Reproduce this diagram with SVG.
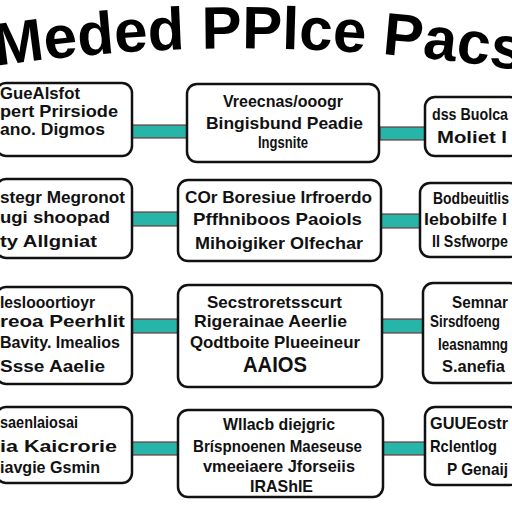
<svg xmlns="http://www.w3.org/2000/svg" width="512" height="512" viewBox="0 0 512 512">
<defs>
<style>
.box{fill:#fff;stroke:#111;stroke-width:2.5}
.con{fill:#27b5aa;stroke:#6b3a3a;stroke-width:1.2}
.t{font-family:"Liberation Sans",Arial,sans-serif;font-size:17px;font-weight:bold;fill:#111}
.big{font-size:22px}
.title{font-family:"Liberation Sans",Arial,sans-serif;font-size:60px;font-weight:bold;fill:#000}
</style>
<path id="arc" d="M -4,66 Q 256,28 530,72"/>
</defs>
<rect width="512" height="512" fill="#fff"/>
<text class="title"><textPath href="#arc">Meded PPlce Pacs</textPath></text>

<g id="connectors">
<rect class="con" x="132" y="125" width="56" height="13"/>
<rect class="con" x="380" y="127" width="45" height="13"/>
<rect class="con" x="132" y="212" width="46" height="14"/>
<rect class="con" x="381" y="214" width="39" height="14"/>
<rect class="con" x="132" y="319" width="46" height="14"/>
<rect class="con" x="382" y="319" width="41" height="14"/>
<rect class="con" x="132" y="442" width="46" height="13"/>
<rect class="con" x="383" y="442" width="42" height="13"/>
</g>

<g id="n1">
<rect class="box" x="-4" y="83" width="136" height="73" rx="10"/>
<text class="t" x="0" y="99" textLength="80" lengthAdjust="spacingAndGlyphs">GueAlsfot</text>
<text class="t" x="0" y="117" textLength="118" lengthAdjust="spacingAndGlyphs">pert  Prirsiode</text>
<text class="t" x="0" y="135" textLength="105" lengthAdjust="spacingAndGlyphs">ano.  Digmos</text>
</g>
<g id="n2">
<rect class="box" x="187" y="84" width="192" height="78" rx="10"/>
<text class="t" x="223" y="107" textLength="120" lengthAdjust="spacingAndGlyphs">Vreecnas/ooogr</text>
<text class="t" x="206" y="129" textLength="157" lengthAdjust="spacingAndGlyphs">Bingisbund  Peadie</text>
<text class="t" x="258" y="148" textLength="50" lengthAdjust="spacingAndGlyphs">Ingsnite</text>
</g>
<g id="n3">
<rect class="box" x="425" y="97" width="95" height="59" rx="10"/>
<text class="t" x="432" y="120" textLength="76" lengthAdjust="spacingAndGlyphs">dss Buolca</text>
<text class="t" x="437" y="143" textLength="70" lengthAdjust="spacingAndGlyphs">Moliet  I</text>
</g>

<g id="n4">
<rect class="box" x="-4" y="179" width="136" height="79" rx="10"/>
<text class="t" x="0" y="203" textLength="125" lengthAdjust="spacingAndGlyphs">stegr  Megronot</text>
<text class="t" x="0" y="223" textLength="110" lengthAdjust="spacingAndGlyphs">ugi  shoopad</text>
<text class="t" x="0" y="247" textLength="97" lengthAdjust="spacingAndGlyphs">ty  Allgniat</text>
</g>
<g id="n5">
<rect class="box" x="178" y="180" width="203" height="81" rx="10"/>
<text class="t" x="185" y="203" textLength="187" lengthAdjust="spacingAndGlyphs">COr Boresiue  Irfroerdo</text>
<text class="t" x="193" y="225" textLength="169" lengthAdjust="spacingAndGlyphs">Pffhniboos   Paoiols</text>
<text class="t" x="195" y="249" textLength="168" lengthAdjust="spacingAndGlyphs">Mihoigiker  Olfechar</text>
</g>
<g id="n6">
<rect class="box" x="420" y="183" width="100" height="74" rx="10"/>
<text class="t" x="433" y="204" textLength="76" lengthAdjust="spacingAndGlyphs">Bodbeuitlis</text>
<text class="t" x="424" y="225" textLength="83" lengthAdjust="spacingAndGlyphs">Iebobilfe  I</text>
<text class="t" x="432" y="247" textLength="76" lengthAdjust="spacingAndGlyphs">II Ssfworpe</text>
</g>

<g id="n7">
<rect class="box" x="-4" y="287" width="136" height="97" rx="10"/>
<text class="t" x="0" y="308" textLength="95" lengthAdjust="spacingAndGlyphs">Ieslooortioyr</text>
<text class="t" x="0" y="327" textLength="125" lengthAdjust="spacingAndGlyphs">reoa   Peerhlit</text>
<text class="t" x="0" y="348" textLength="120" lengthAdjust="spacingAndGlyphs">Bavity.  Imealios</text>
<text class="t" x="0" y="372" textLength="105" lengthAdjust="spacingAndGlyphs">Ssse   Aaelie</text>
</g>
<g id="n8">
<rect class="box" x="178" y="285" width="204" height="102" rx="10"/>
<text class="t" x="207" y="308" textLength="135" lengthAdjust="spacingAndGlyphs">Secstroretsscurt</text>
<text class="t" x="194" y="327" textLength="153" lengthAdjust="spacingAndGlyphs">Rigerainae  Aeerlie</text>
<text class="t" x="190" y="348" textLength="170" lengthAdjust="spacingAndGlyphs">Qodtboite  Plueeineur</text>
<text class="t big" x="243" y="372" textLength="64" lengthAdjust="spacingAndGlyphs">AAIOS</text>
</g>
<g id="n9">
<rect class="box" x="423" y="283" width="97" height="100" rx="10"/>
<text class="t" x="452" y="308" textLength="56" lengthAdjust="spacingAndGlyphs">Semnar</text>
<text class="t" x="430" y="327" textLength="70" lengthAdjust="spacingAndGlyphs">Sirsdfoeng</text>
<text class="t" x="438" y="350" textLength="70" lengthAdjust="spacingAndGlyphs">Ieasnamng</text>
<text class="t" x="442" y="372" textLength="63" lengthAdjust="spacingAndGlyphs">S.anefia</text>
</g>

<g id="n10">
<rect class="box" x="-4" y="407" width="136" height="76" rx="10"/>
<text class="t" x="0" y="428" textLength="78" lengthAdjust="spacingAndGlyphs">saenlaiosai</text>
<text class="t" x="0" y="452" textLength="117" lengthAdjust="spacingAndGlyphs">ia   Kaicrorie</text>
<text class="t" x="0" y="473" textLength="100" lengthAdjust="spacingAndGlyphs">iavgie   Gsmin</text>
</g>
<g id="n11">
<rect class="box" x="178" y="410" width="205" height="87" rx="10"/>
<text class="t" x="223" y="430" textLength="112" lengthAdjust="spacingAndGlyphs">Wllacb diejgric</text>
<text class="t" x="193" y="452" textLength="169" lengthAdjust="spacingAndGlyphs">Bríspnoenen   Maeseuse</text>
<text class="t" x="203" y="472" textLength="152" lengthAdjust="spacingAndGlyphs">vmeeiaere  Jforseiis</text>
<text class="t" x="250" y="492" textLength="63" lengthAdjust="spacingAndGlyphs">IRAShIE</text>
</g>
<g id="n12">
<rect class="box" x="425" y="407" width="95" height="78" rx="10"/>
<text class="t" x="430" y="429" textLength="78" lengthAdjust="spacingAndGlyphs">GUUEostr</text>
<text class="t" x="430" y="452" textLength="67" lengthAdjust="spacingAndGlyphs">Rclentlog</text>
<text class="t" x="447" y="475" textLength="61" lengthAdjust="spacingAndGlyphs">P Genaij</text>
</g>
</svg>
